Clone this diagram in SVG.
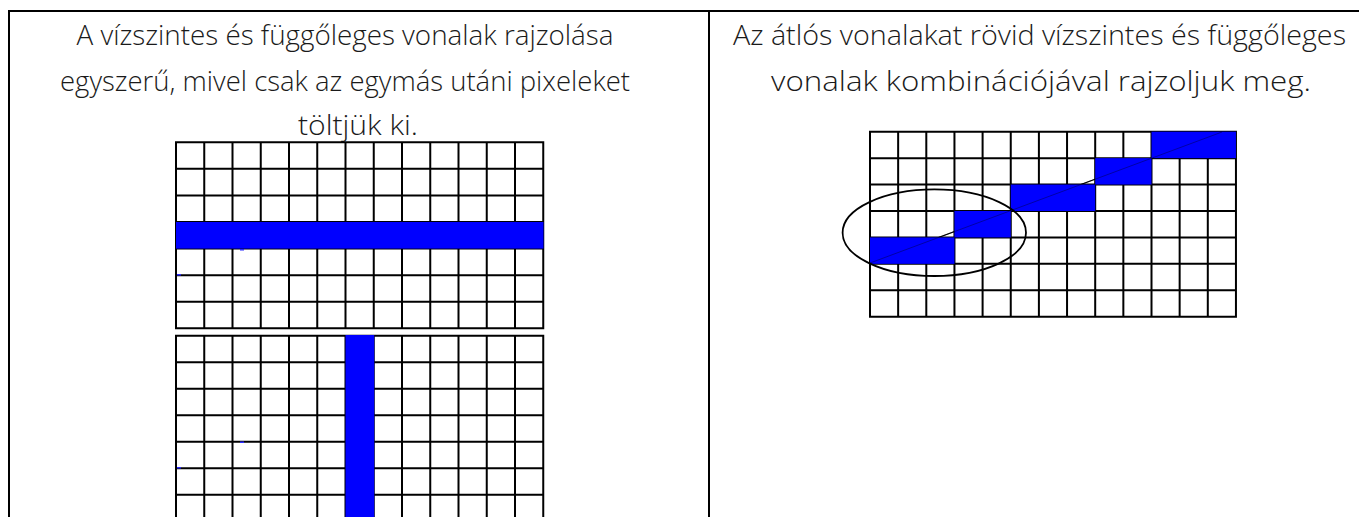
<svg xmlns="http://www.w3.org/2000/svg" width="1359" height="517" viewBox="0 0 1359 517">
<style>
.bg{fill:#fff}
.tbl{fill:none;stroke:#000;stroke-width:2}
.txt{font-family:"Open Sans","Liberation Sans",sans-serif;font-size:27px;font-weight:300;fill:#1a1a1a;text-anchor:middle}
.grid{fill:none;stroke:#000;stroke-width:2}
.px{fill:#0000ff}
.diag{stroke:#000;stroke-width:1.2;fill:none}
.ell{fill:none;stroke:#000;stroke-width:1.8}
.dot{fill:#2a2aff}
</style>
<rect class="bg" x="0" y="0" width="1359" height="517"/>
<g id="table">
<path class="tbl" d="M9 530V11H1370 M709 11V530"/>
</g>
<g id="text-left">
<text class="txt" x="345" y="45" textLength="537" lengthAdjust="spacingAndGlyphs">A vízszintes és függőleges vonalak rajzolása</text>
<text class="txt" x="345" y="91" textLength="570" lengthAdjust="spacingAndGlyphs">egyszerű, mivel csak az egymás utáni pixeleket</text>
<text class="txt" x="358" y="135" textLength="120" lengthAdjust="spacingAndGlyphs">töltjük ki.</text>
</g>
<g id="text-right">
<text class="txt" x="1039.5" y="45" textLength="613" lengthAdjust="spacingAndGlyphs">Az átlós vonalakat rövid vízszintes és függőleges</text>
<text class="txt" x="1041" y="91" textLength="540" lengthAdjust="spacingAndGlyphs">vonalak kombinációjával rajzoljuk meg.</text>
</g>
<g id="grid-horizontal">
<path class="grid" d="M176 142.3V328.3M204.25 142.3V328.3M232.5 142.3V328.3M260.75 142.3V328.3M289 142.3V328.3M317.25 142.3V328.3M345.5 142.3V328.3M373.75 142.3V328.3M402 142.3V328.3M430.25 142.3V328.3M458.5 142.3V328.3M486.75 142.3V328.3M515 142.3V328.3M543.25 142.3V328.3M175 142.3H544.25M175 168.87H544.25M175 195.44H544.25M175 222.01H544.25M175 248.58H544.25M175 275.15H544.25M175 301.72H544.25M175 328.29H544.25"/>
<rect class="px" x="176" y="222" width="367.5" height="26.6"/>
<rect class="dot" x="240" y="249" width="4" height="1.5"/>
<rect class="dot" x="177" y="274" width="4" height="1.5"/>
</g>
<g id="grid-vertical">
<path class="grid" d="M176 335.7V530M204.25 335.7V530M232.5 335.7V530M260.75 335.7V530M289 335.7V530M317.25 335.7V530M345.5 335.7V530M373.75 335.7V530M402 335.7V530M430.25 335.7V530M458.5 335.7V530M486.75 335.7V530M515 335.7V530M543.25 335.7V530M175 335.7H544.25M175 362.2H544.25M175 388.7H544.25M175 415.2H544.25M175 441.7H544.25M175 468.2H544.25M175 494.7H544.25M175 521.2H544.25"/>
<rect class="px" x="345.5" y="335" width="28.75" height="190"/>
<rect class="dot" x="240" y="441.5" width="4" height="1.5"/>
<rect class="dot" x="177" y="467" width="4" height="1.5"/>
</g>
<g id="grid-diagonal">
<path class="grid" d="M870 131.7V316.7M898.15 131.7V316.7M926.3 131.7V316.7M954.45 131.7V316.7M982.6 131.7V316.7M1010.75 131.7V316.7M1038.9 131.7V316.7M1067.05 131.7V316.7M1095.2 131.7V316.7M1123.35 131.7V316.7M1151.5 131.7V316.7M1179.65 131.7V316.7M1207.8 131.7V316.7M1235.95 131.7V316.7M869 131.7H1236.95M869 158.13H1236.95M869 184.56H1236.95M869 210.99H1236.95M869 237.42H1236.95M869 263.85H1236.95M869 290.28H1236.95M869 316.71H1236.95"/>
<path class="diag" d="M870 263L1222 132"/>
<rect class="px" x="1151.5" y="131.7" width="84.45" height="26.43"/>
<rect class="px" x="1095.2" y="158.13" width="56.3" height="26.43"/>
<rect class="px" x="1010.75" y="184.56" width="84.45" height="26.43"/>
<rect class="px" x="954.45" y="210.99" width="56.3" height="26.43"/>
<rect class="px" x="870" y="237.42" width="84.45" height="26.43"/>
<path d="M870 263L1222 132" stroke="#000" stroke-width="1" stroke-opacity="0.35" fill="none"/>
</g>
<g id="ellipse-highlight">
<ellipse class="ell" cx="934.3" cy="232.7" rx="91.7" ry="43.3"/>
</g>
<g id="connectors"/>
</svg>
